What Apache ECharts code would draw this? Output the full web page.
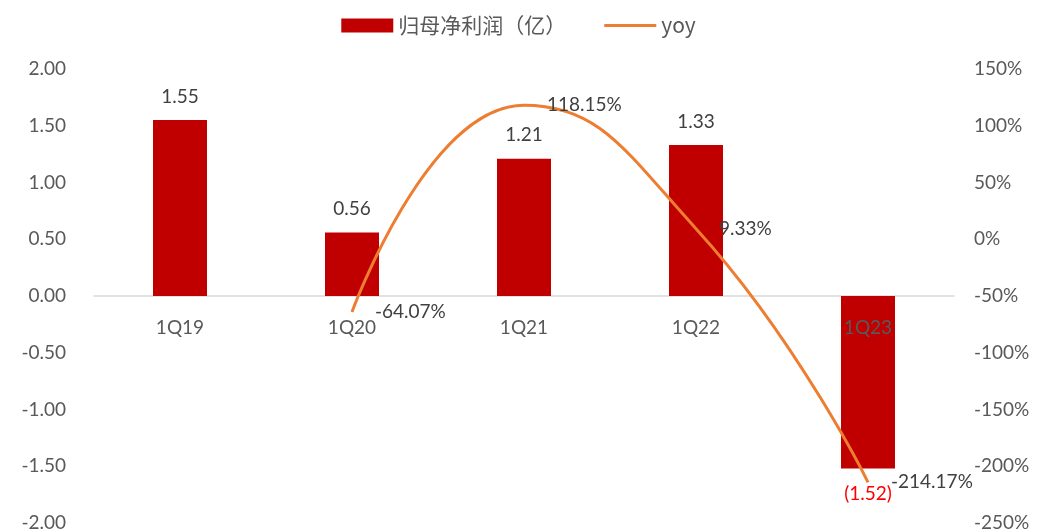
<!DOCTYPE html>
<html><head><meta charset="utf-8">
<script src="https://cdn.jsdelivr.net/npm/echarts@6/dist/echarts.min.js"></script>
<style>html,body{margin:0;padding:0;background:#fff}#c{width:1037px;height:532px}</style>
</head><body><div id="c"></div>
<script>
const categories = ['1Q19','1Q20','1Q21','1Q22','1Q23'];
const profit = [1.55, 0.56, 1.21, 1.33, -1.52];
const yoy = [null, -64.07, 118.15, 9.33, -214.17];
const leftTicks = {min:-2, max:2, interval:0.5};
const rightTicks = {min:-250, max:150, interval:50};
const seriesNames = ['归母净利润（亿）','yoy'];

const font = 'Lato, "Noto Sans", sans-serif';
const FS = 19;
const chart = echarts.init(document.getElementById('c'));
chart.setOption({
  animation:false,
  legend:{
    top:10, left:'center', itemGap:38, itemWidth:52, itemHeight:14,
    textStyle:{fontSize:21, color:'#595959', fontFamily:'"Noto Sans CJK SC", sans-serif'},
    data:[{name:seriesNames[0], icon:'rect'},{name:seriesNames[1], icon:'path://M0,0L52,0L52,3L0,3Z'}]
  },
  grid:{left:94, right:83, top:69, bottom:9, containLabel:false, outerBoundsMode:'none'},
  xAxis:{
    type:'category', data:categories,
    axisLine:{onZero:true, onZeroAxisIndex:0, lineStyle:{color:'#D9D9D9', width:1.5}},
    axisTick:{show:false},
    axisLabel:{show:false}
  },
  yAxis:[
    {type:'value', min:leftTicks.min, max:leftTicks.max, interval:leftTicks.interval,
     splitLine:{show:false}, axisLine:{show:false}, axisTick:{show:false},
     axisLabel:{fontSize:FS, color:'#595959', fontFamily:font, margin:28,
       formatter:v=>v.toFixed(2)}},
    {type:'value', min:rightTicks.min, max:rightTicks.max, interval:rightTicks.interval,
     splitLine:{show:false}, axisLine:{show:false}, axisTick:{show:false},
     axisLabel:{fontSize:FS, color:'#595959', fontFamily:font, margin:20,
       formatter:v=>v+'%'}}
  ],
  series:[
    {name:seriesNames[0], type:'bar', data:profit.map(v=>({value:v,
       label: v<0 ? {position:'bottom', distance:16, color:'#FF0000'} : {position:'top', distance:14, color:'#404040'}})),
     barWidth:54,
     itemStyle:{color:'#C00000'},
     label:{show:true, fontSize:FS, fontFamily:font,
       formatter:p=>p.value<0?'('+Math.abs(p.value).toFixed(2)+')':p.value.toFixed(2)}
    },
    {name:seriesNames[1], type:'line', yAxisIndex:1, data:yoy, smooth:0.5,
     symbol:'none', connectNulls:false, z:3,
     lineStyle:{color:'#ED7D31', width:3}, itemStyle:{color:'#ED7D31'}
    },
    {name:'yoyLabels', type:'scatter', yAxisIndex:1,
     data:yoy.map((v,i)=>v==null?null:[categories[i], v]), symbolSize:2,
     itemStyle:{color:'rgba(0,0,0,0)', opacity:1}, z:4, silent:true,
     label:{show:true, position:'right', distance:22, fontSize:FS, color:'#404040', fontFamily:font,
       formatter:p=>Number(p.value[1]).toFixed(2)+'%'}
    },
    {name:'catLabels', type:'scatter', yAxisIndex:0,
     data:categories.map(c=>[c, 0]), symbolSize:2,
     itemStyle:{color:'rgba(0,0,0,0)', opacity:1}, z:5, silent:true,
     label:{show:true, position:'bottom', distance:21, fontSize:FS, color:'#595959', fontFamily:font,
       formatter:p=>p.value[0]}
    }
  ]
});
</script></body></html>
